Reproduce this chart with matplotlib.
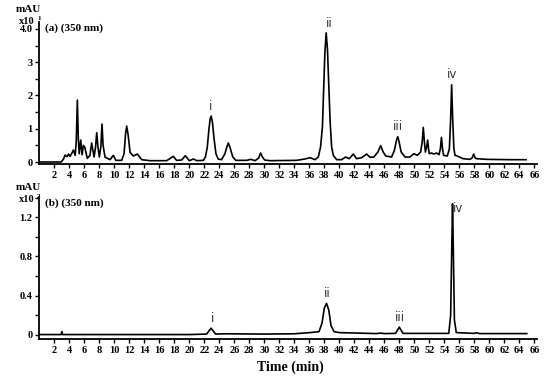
import numpy as np
import matplotlib
matplotlib.use('Agg')
import matplotlib.pyplot as plt
from matplotlib.ticker import MultipleLocator

# chromatogram (a), absorbance in units of 10 mAU
time_a = [0, 2.9, 3.2, 3.45, 3.7, 3.9, 4.1, 4.3, 4.55, 4.78, 4.92, 5.07, 5.2, 5.32,
          5.52, 5.7, 5.87, 6.05, 6.4, 6.75, 6.98, 7.3, 7.5, 7.65, 7.82, 8.0, 8.2,
          8.36, 8.5, 8.76, 9.43, 9.87, 10.2, 10.98, 11.3, 11.5, 11.65, 11.85,
          12.1, 12.54, 13.07, 13.65, 14.76, 16.98, 17.87, 18.3, 18.98, 19.47, 20.0,
          20.54, 21.0, 21.87, 22.15, 22.4, 22.6, 22.78, 22.92, 23.08, 23.3, 23.55,
          23.85, 24.3, 24.75, 25.0, 25.2, 25.45, 25.8, 26.2, 27.65, 28.2, 28.76,
          29.25, 29.5, 29.75, 30.05, 30.76, 34.3, 35.4, 36.1, 36.76, 37.2, 37.5,
          37.75, 37.92, 38.08, 38.25, 38.42, 38.6, 38.78, 38.98, 39.2, 39.65, 40.3,
          40.85, 41.33, 41.87, 42.3, 42.98, 43.65, 44.1, 44.6, 45.15, 45.52, 45.85,
          46.2, 46.98, 47.35, 47.62, 47.8, 47.98, 48.25, 48.76, 49.4, 49.96, 50.4,
          50.85, 51.05, 51.2, 51.35, 51.48, 51.65, 51.78, 51.9, 52.0, 52.3, 52.6,
          52.98, 53.3, 53.48, 53.62, 53.76, 53.92, 54.4, 54.68, 54.85, 54.98, 55.12,
          55.28, 55.43, 55.74, 56.5, 57.4, 57.72, 57.92, 58.12, 58.3, 59.65, 62.76,
          64.9]
abs_a = [0.0, 0.0, 0.08, 0.21, 0.16, 0.24, 0.17, 0.25, 0.36, 0.2, 0.6, 1.86, 0.7,
         0.25, 0.66, 0.22, 0.5, 0.45, 0.11, 0.2, 0.57, 0.15, 0.45, 0.88, 0.45, 0.15,
         0.45, 1.14, 0.5, 0.15, 0.07, 0.2, 0.05, 0.05, 0.25, 0.85, 1.08, 0.8, 0.29,
         0.18, 0.24, 0.07, 0.04, 0.04, 0.17, 0.05, 0.06, 0.19, 0.04, 0.09, 0.04,
         0.05, 0.15, 0.45, 0.95, 1.3, 1.38, 1.2, 0.7, 0.25, 0.09, 0.07, 0.25, 0.45,
         0.57, 0.42, 0.15, 0.05, 0.05, 0.08, 0.04, 0.12, 0.27, 0.15, 0.06, 0.04,
         0.05, 0.09, 0.13, 0.07, 0.15, 0.45, 1.06, 2.2, 3.3, 3.88, 3.4, 2.3, 1.2,
         0.45, 0.2, 0.07, 0.07, 0.15, 0.1, 0.24, 0.1, 0.13, 0.24, 0.14, 0.15, 0.3,
         0.49, 0.3, 0.18, 0.15, 0.35, 0.65, 0.76, 0.6, 0.3, 0.15, 0.15, 0.25, 0.2,
         0.3, 0.6, 1.04, 0.6, 0.3, 0.45, 0.66, 0.4, 0.25, 0.27, 0.24, 0.27, 0.22,
         0.4, 0.74, 0.4, 0.2, 0.18, 0.4, 1.3, 2.32, 1.3, 0.4, 0.2, 0.18, 0.1, 0.08,
         0.12, 0.24, 0.12, 0.1, 0.08, 0.07, 0.07]

# chromatogram (b), absorbance in units of 100 mAU
time_b = [0, 2.9, 3.0, 3.1, 20.0, 22.3, 22.6, 22.9, 23.2, 23.5, 25.0, 30.0, 34.0,
          36.1, 37.3, 37.7, 38.0, 38.3, 38.6, 38.9, 39.3, 40.0, 45.0, 45.5, 46.0,
          47.5, 47.8, 48.0, 48.2, 48.5, 54.6, 54.85, 55.0, 55.1, 55.2, 55.35,
          55.6, 57.9, 58.3, 58.7, 65.0]
abs_b = [0.0, 0.0, 0.03, 0.0, 0.0, 0.005, 0.035, 0.065, 0.035, 0.005, 0.008,
         0.005, 0.008, 0.02, 0.03, 0.12, 0.27, 0.32, 0.25, 0.09, 0.03, 0.02, 0.01,
         0.015, 0.01, 0.012, 0.05, 0.076, 0.05, 0.012, 0.012, 0.2, 0.9, 1.34, 0.9,
         0.15, 0.02, 0.012, 0.018, 0.01, 0.01]

peak_names = ['i', 'ii', 'iii', 'iv']
peaks_a_t = [22.9, 38.6, 47.8, 55.0]
peaks_a_h = [1.38, 3.88, 0.76, 2.32]
peaks_b_t = [23.1, 38.4, 48.1, 55.8]
peaks_b_h = [0.065, 0.32, 0.076, 1.2]

serif = 'Liberation Serif'

fig = plt.figure(figsize=(5.5, 3.78), dpi=100)
axA = fig.add_axes([0.0715, 0.567, 0.904, 0.375])
axB = fig.add_axes([0.0715, 0.102, 0.904, 0.377])


def style(ax):
    for s in ['top', 'right']:
        ax.spines[s].set_visible(False)
    for s in ['left', 'bottom']:
        ax.spines[s].set_linewidth(1.3)
    ax.set_xlim(0, 66.3)
    ax.set_xticks(np.arange(2, 67, 2))
    ax.set_xticklabels([str(v) for v in range(2, 67, 2)])
    ax.tick_params(axis='both', which='major', length=3, width=1, pad=2,
                   labelsize=7.5)
    ax.tick_params(axis='y', which='minor', length=3, width=1)
    for lab in ax.get_xticklabels() + ax.get_yticklabels():
        lab.set_fontfamily(serif)
        lab.set_fontweight('bold')


axA.plot(time_a, abs_a, color='black', lw=1.2)
axA.set_ylim(-0.05, 4.21)
axA.set_yticks([0, 1, 2, 3, 4])
axA.set_yticklabels(['0', '1', '2', '3', '4.0'])
axA.yaxis.set_minor_locator(MultipleLocator(0.5))
style(axA)
for n, t, h in zip(peak_names, peaks_a_t, peaks_a_h):
    axA.text(t, h + 0.1, n, ha='center', va='bottom', fontsize=8.5,
             color='#333333', family='DejaVu Sans')
axA.text(0.012, 0.957, '(a) (350 nm)', transform=axA.transAxes, ha='left',
         va='center', fontsize=8, fontweight='bold', family=serif)

axB.plot(time_b, abs_b, color='black', lw=1.2)
axB.set_ylim(-0.05, 1.41)
axB.set_yticks([0, 0.4, 0.8, 1.2])
axB.set_yticklabels(['0', '0.4', '0.8', '1.2'])
axB.yaxis.set_minor_locator(MultipleLocator(0.2))
style(axB)
for n, t, h in zip(peak_names, peaks_b_t, peaks_b_h):
    axB.text(t, h + 0.03, n, ha='center', va='bottom', fontsize=8.5,
             color='#333333', family='DejaVu Sans')
axB.text(0.012, 0.958, '(b) (350 nm)', transform=axB.transAxes, ha='left',
         va='center', fontsize=8, fontweight='bold', family=serif)

# unit labels
W, H = 550.0, 378.0
for y0, exp in [(10, '1'), (188, '2')]:
    fig.text(28 / W, 1 - y0 / H, 'mAU', ha='center', va='center', fontsize=8,
             fontweight='bold', family=serif)
    fig.text(19 / W, 1 - (y0 + 11) / H, 'x10', ha='left', va='center',
             fontsize=7.5, fontweight='bold', family=serif)
    fig.text(37 / W, 1 - (y0 + 9) / H, exp, ha='left', va='center',
             fontsize=5, fontweight='bold', family=serif)

fig.text(290 / W, 1 - 367 / H, 'Time (min)', ha='center', va='center',
         fontsize=10, fontweight='bold', family=serif)

fig.savefig('out.png', dpi=100)
